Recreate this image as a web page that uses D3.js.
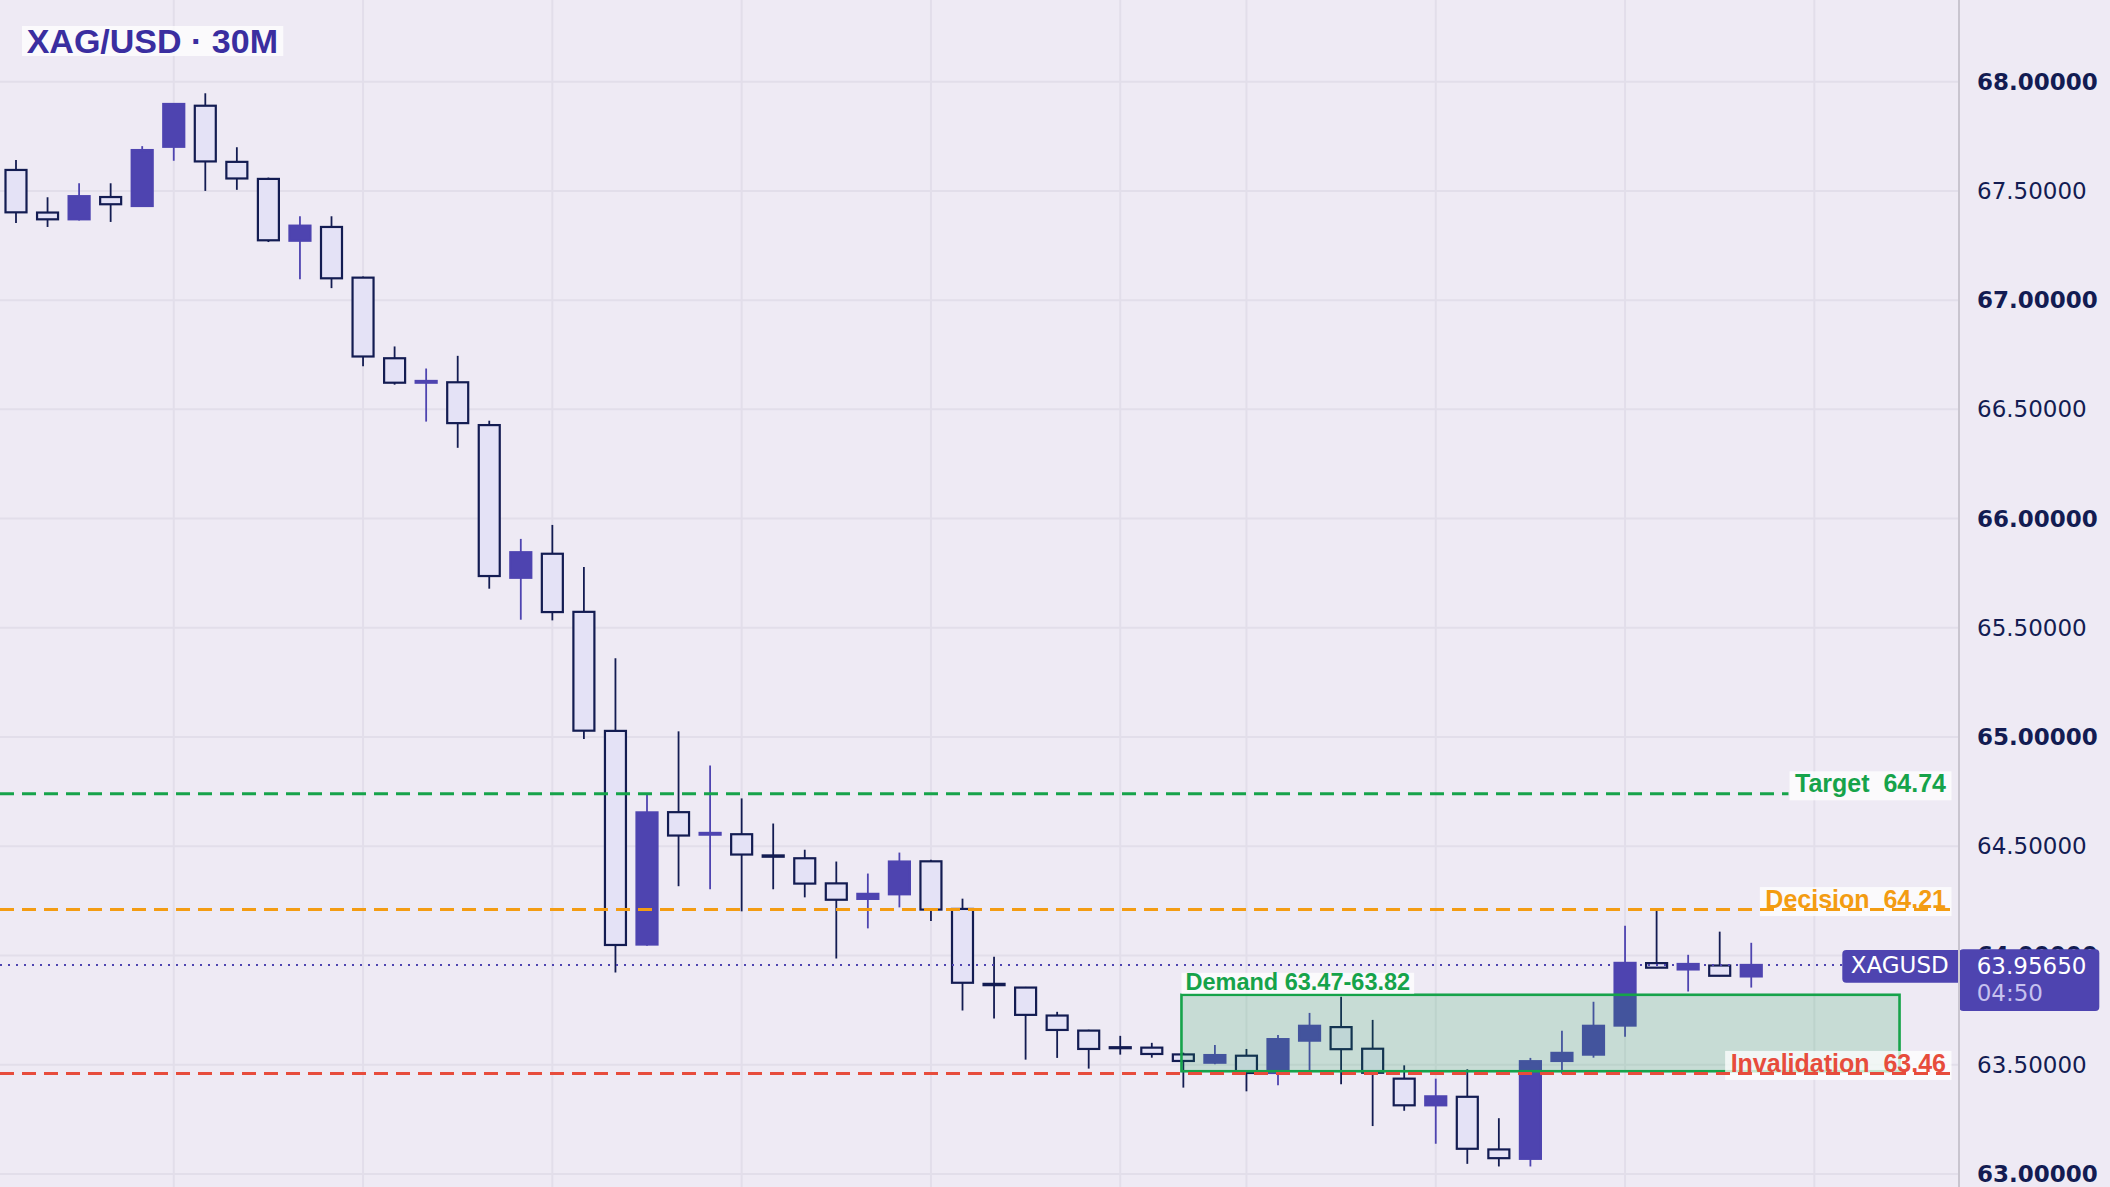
<!DOCTYPE html>
<html><head><meta charset="utf-8">
<script src="https://cdn.jsdelivr.net/npm/d3@7"></script>
<style>html,body{margin:0;padding:0;background:#eeeaf4;overflow:hidden}</style>
</head><body><svg id="c" width="2110" height="1187"></svg>
<script>
// ---------- DATA ----------
const title = "XAG/USD · 30M";
const symbol = "XAGUSD";
const countdown = "04:50";
const lastPrice = 63.9565;
const opens  = [67.596,67.401,67.370,67.472,67.431,67.702,67.890,67.633,67.555,67.272,67.335,67.103,66.734,66.622,66.624,66.428,65.729,65.839,65.573,65.028,64.050,64.656,64.553,64.555,64.458,64.445,64.330,64.259,64.280,64.431,64.213,63.870,63.853,63.725,63.656,63.580,63.578,63.547,63.509,63.541,63.462,63.610,63.672,63.573,63.436,63.314,63.353,63.112,63.069,63.517,63.546,63.679,63.965,63.936,63.954,63.904];
const highs  = [67.641,67.471,67.535,67.535,67.705,67.898,67.947,67.700,67.561,67.384,67.384,67.108,66.788,66.687,66.745,66.448,65.907,65.971,65.778,65.361,64.736,65.026,64.870,64.719,64.604,64.484,64.430,64.375,64.471,64.438,64.260,63.994,63.856,63.742,63.660,63.632,63.600,63.555,63.590,63.572,63.636,63.737,63.811,63.705,63.497,63.436,63.479,63.255,63.531,63.655,63.788,64.136,64.204,64.003,64.109,64.058];
const lows   = [67.353,67.335,67.365,67.358,67.427,67.638,67.500,67.505,67.266,67.096,67.055,66.697,66.613,66.444,66.324,65.679,65.537,65.534,64.991,63.922,64.045,64.317,64.303,64.202,64.303,64.266,63.986,64.124,64.220,64.158,63.748,63.711,63.523,63.531,63.482,63.546,63.532,63.395,63.502,63.378,63.406,63.462,63.410,63.219,63.289,63.138,63.046,63.034,63.034,63.459,63.532,63.628,63.942,63.835,63.905,63.853];
const closes = [67.402,67.370,67.476,67.439,67.687,67.898,67.635,67.557,67.274,67.341,67.100,66.742,66.622,66.630,66.437,65.737,65.846,65.572,65.029,64.048,64.655,64.549,64.561,64.462,64.452,64.329,64.255,64.282,64.430,64.210,63.875,63.864,63.728,63.659,63.572,63.576,63.549,63.517,63.544,63.462,63.617,63.678,63.571,63.463,63.314,63.355,63.115,63.072,63.516,63.554,63.678,63.966,63.944,63.961,63.907,63.9565];
const yTicks = [63,63.5,64,64.5,65,65.5,66,66.5,67,67.5,68];
const timeGridIdx = [5,11,17,23,29,35,39,45,51,57]; // 3-hour time marks (daily break shifts them)
const levelNames  = ["Target","Decision","Invalidation"];
const levelValues = [64.74, 64.21, 63.46];
const demandRange = [63.47, 63.82];
const demandSpanIdx = [36.94, 59.7];

// ---------- STYLE ----------
const W = 2110, H = 1187, axisX = 1959;
const BG = "#eeeaf4", GRID = "#e2deea", NAVY = "#131c52", PURPLE = "#4e44b0", LIGHT = "#e4e2f6";
const levelColors = ["#16a34a", "#f39c12", "#e74c3c"];
const GREEN = "#16a34a";
const LABEL_FONT = "'Liberation Sans', Arial, sans-serif";
const AXIS_FONT = "'DejaVu Sans', Verdana, sans-serif";

const svg = d3.select("#c");
const x = d3.scaleLinear().domain([0, 55]).range([16, 16 + 55 * 31.55]);
const y = d3.scaleLinear().domain([63, 68]).range([1173.9, 81.7]);

svg.append("rect").attr("width", W).attr("height", H).attr("fill", BG);

// grid
const g = svg.append("g");
g.selectAll("line.h").data(yTicks).join("line")
  .attr("x1", 0).attr("x2", axisX).attr("y1", d => y(d)).attr("y2", d => y(d))
  .attr("stroke", GRID).attr("stroke-width", 2);
g.selectAll("line.v").data(timeGridIdx).join("line")
  .attr("x1", d => x(d)).attr("x2", d => x(d)).attr("y1", 0).attr("y2", H)
  .attr("stroke", GRID).attr("stroke-width", 2);

// candles
const candles = opens.map((o, i) => ({i, o, h: highs[i], l: lows[i], c: closes[i]}));
const cg = svg.append("g");
cg.selectAll("line.w").data(candles).join("line")
  .attr("x1", d => x(d.i)).attr("x2", d => x(d.i))
  .attr("y1", d => y(d.h)).attr("y2", d => y(d.l))
  .attr("stroke", d => d.c >= d.o ? PURPLE : NAVY).attr("stroke-width", 1.8);
cg.selectAll("rect.b").data(candles).join("rect")
  .attr("x", d => x(d.i) - 10.5).attr("width", 21)
  .attr("y", d => y(Math.max(d.o, d.c)))
  .attr("height", d => Math.max(1, y(Math.min(d.o, d.c)) - y(Math.max(d.o, d.c))))
  .attr("fill", d => d.c >= d.o ? PURPLE : LIGHT)
  .attr("stroke", d => d.c >= d.o ? PURPLE : NAVY).attr("stroke-width", 2.2);

// last price dotted line
svg.append("line").attr("x1", 0).attr("x2", 1842).attr("y1", y(lastPrice)).attr("y2", y(lastPrice))
  .attr("stroke", PURPLE).attr("stroke-width", 2).attr("stroke-dasharray", "2,6");

// demand zone
const zx0 = x(demandSpanIdx[0]), zx1 = x(demandSpanIdx[1]);
const zTop = y(demandRange[1]), zBot = y(demandRange[0]);
svg.append("rect").attr("x", zx0).attr("y", zTop).attr("width", zx1 - zx0).attr("height", zBot - zTop)
  .attr("fill", "rgba(22,163,74,0.18)").attr("stroke", GREEN).attr("stroke-width", 2.6);
const dText = svg.append("text").attr("x", zx0 + 4).attr("y", zTop - 4.5)
  .attr("font-family", LABEL_FONT).attr("font-weight", "bold").attr("font-size", 23.5)
  .attr("fill", GREEN).text(`Demand ${demandRange[0].toFixed(2)}-${demandRange[1].toFixed(2)}`);
const dLen = dText.node().getComputedTextLength();
svg.insert("rect", () => dText.node()).attr("x", zx0).attr("y", zTop - 22).attr("width", dLen + 8).attr("height", 21)
  .attr("fill", "rgba(255,255,255,0.75)");

// levels
const labelRight = 1946;
levelValues.forEach((v, k) => {
  const ly = y(v);
  const col = levelColors[k];
  const grp = svg.append("g");
  const t = grp.append("text").attr("x", labelRight).attr("y", ly - 1.5).attr("text-anchor", "end")
    .attr("font-family", LABEL_FONT).attr("font-weight", "bold").attr("font-size", 25)
    .attr("fill", col).attr("xml:space", "preserve").style("white-space", "pre")
    .text(`${levelNames[k]}  ${v.toFixed(2)}`);
  const len = t.node().getComputedTextLength();
  const bx = labelRight - len - 5.5;
  grp.insert("rect", () => t.node()).attr("x", bx).attr("y", ly - 22.5).attr("width", len + 11).attr("height", 29)
    .attr("fill", "rgba(255,255,255,0.75)");
  const x2 = k === 0 ? bx - 1 : labelRight + 5.5;
  svg.append("line").attr("x1", 0).attr("x2", x2).attr("y1", ly).attr("y2", ly)
    .attr("stroke", col).attr("stroke-width", 3).attr("stroke-dasharray", "14,8");
});

// axis labels
svg.append("g").selectAll("text").data(yTicks).join("text")
  .attr("x", 1977).attr("y", d => y(d) + 8)
  .attr("font-family", AXIS_FONT).attr("font-size", 23)
  .attr("font-weight", d => Number.isInteger(d) ? "bold" : "normal")
  .attr("fill", NAVY).text(d => d.toFixed(5));

// price tags
const py = y(lastPrice);
svg.append("rect").attr("x", 1842.3).attr("y", py - 15).attr("width", 120).attr("height", 32.7).attr("rx", 4)
  .attr("fill", PURPLE);
svg.append("text").attr("x", 1850.7).attr("y", py + 8.3).attr("font-family", AXIS_FONT).attr("font-size", 23)
  .attr("fill", "#ffffff").text(symbol);
svg.append("rect").attr("x", 1959.3).attr("y", py - 15.7).attr("width", 140).attr("height", 61.7).attr("rx", 4)
  .attr("fill", PURPLE);
svg.append("text").attr("x", 1976.7).attr("y", py + 8.7).attr("font-family", AXIS_FONT).attr("font-size", 23)
  .attr("fill", "#ffffff").text(lastPrice.toFixed(5));
svg.append("text").attr("x", 1976.7).attr("y", py + 36.5).attr("font-family", AXIS_FONT).attr("font-size", 23)
  .attr("fill", "#c6c1ee").text(countdown);

// axis separator
svg.append("line").attr("x1", axisX).attr("x2", axisX).attr("y1", 0).attr("y2", H)
  .attr("stroke", "#c9c5cf").attr("stroke-width", 2);

// title
const tt = svg.append("text").attr("x", 26.7).attr("y", 52.7)
  .attr("font-family", LABEL_FONT).attr("font-weight", "bold").attr("font-size", 34)
  .attr("fill", "#3a2ea0").text(title);
const tLen = tt.node().getComputedTextLength();
svg.insert("rect", () => tt.node()).attr("x", 22).attr("y", 26).attr("width", tLen + 10).attr("height", 30)
  .attr("fill", "rgba(255,255,255,0.75)");
</script></body></html>
